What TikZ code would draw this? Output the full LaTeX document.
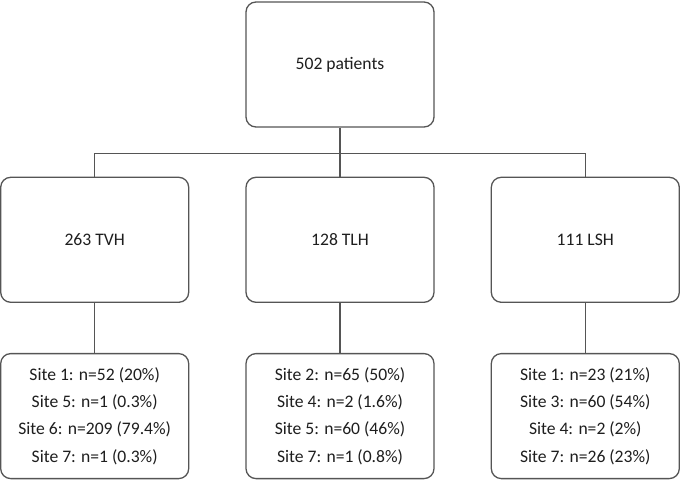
\documentclass[tikz,border=0pt]{standalone}
\usepackage{fontspec}
\setmainfont{Carlito}
\usepackage{tikz}
\usetikzlibrary{positioning,calc}
\definecolor{linegray}{HTML}{555555}
\definecolor{textgray}{HTML}{1E1E1E}
\begin{document}
\begin{tikzpicture}[x=1pt, y=1pt,
    box/.style={rectangle, rounded corners=10pt, draw=linegray, line width=1.3pt, fill=white, text=textgray, minimum width=188pt, minimum height=125pt, inner sep=0pt, align=center, font=\fontsize{17.6}{27.3}\selectfont},
    link/.style={draw=linegray, line width=1.2pt}]
    \useasboundingbox (0,0) rectangle (680,-481);
    \node (pat) [box] at (340,-64.5) {502 patients};%draws total patients
    \node (tlh) [box, below=49pt of pat] {128 TLH};%draws TLH group
    \node (tvh) [box, left=56pt of tlh] {263 TVH};%draws TVH group
    \node (lsh) [box, right=56pt of tlh] {111 LSH};%draws LSH group
    \node (tvhsite) [box, below=50pt of tvh] {Site 1: n=52 (20\%)\\Site 5: n=1 (0.3\%)\\Site 6: n=209 (79.4\%)\\Site 7: n=1 (0.3\%)};%draws TVH sites
    \node (tlhsite) [box, below=50pt of tlh] {Site 2: n=65 (50\%)\\Site 4: n=2 (1.6\%)\\Site 5: n=60 (46\%)\\Site 7: n=1 (0.8\%)};%draws TLH sites
    \node (lshsite) [box, below=50pt of lsh] {Site 1: n=23 (21\%)\\Site 3: n=60 (54\%)\\Site 4: n=2 (2\%)\\Site 7: n=26 (23\%)};%draws LSH sites
    \coordinate (bar) at ($(pat.south)!0.53!(tlh.north)$);%height of the split
    \draw[link] (pat.south) -- (tlh.north);%connects pat to tlh
    \draw[link] (tvh.north) |- (bar) -| (lsh.north);%draws the split bar
    \draw[link] (tvh) -- (tvhsite);%connects tvh to its sites
    \draw[link] (tlh) -- (tlhsite);%connects tlh to its sites
    \draw[link] (lsh) -- (lshsite);%connects lsh to its sites
\end{tikzpicture}
\end{document}
